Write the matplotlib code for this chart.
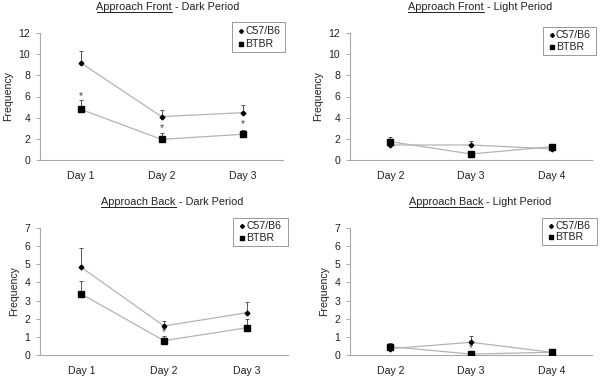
import matplotlib
matplotlib.use("Agg")
import matplotlib.pyplot as plt
from matplotlib.lines import Line2D

plt.rcParams['font.family'] = ['Liberation Sans', 'DejaVu Sans']

# ---- data ----
days_dark = ["Day 1", "Day 2", "Day 3"]
days_light = ["Day 2", "Day 3", "Day 4"]

front_dark_c57 = [9.2, 4.1, 4.47]
front_dark_c57_err = [1.1, 0.6, 0.7]
front_dark_btbr = [4.8, 1.95, 2.43]
front_dark_btbr_err = [0.9, 0.6, 0.45]
front_dark_sig = [6.05, 3.05, 3.37]

front_light_c57 = [1.42, 1.42, 1.05]
front_light_c57_err = [0.8, 0.4, 0.3]
front_light_btbr = [1.73, 0.57, 1.26]
front_light_btbr_err = [0.3, 0.1, 0.25]
front_light_sig = [None, None, None]

back_dark_c57 = [4.83, 1.6, 2.33]
back_dark_c57_err = [1.05, 0.27, 0.6]
back_dark_btbr = [3.36, 0.79, 1.5]
back_dark_btbr_err = [0.72, 0.26, 0.47]
back_dark_sig = [None, 1.25, None]

back_light_c57 = [0.35, 0.7, 0.15]
back_light_c57_err = [0.29, 0.35, 0.05]
back_light_btbr = [0.46, 0.05, 0.15]
back_light_btbr_err = [0.12, 0.05, 0.05]
back_light_sig = [None, 0.37, None]

W, H = 601, 381
fig = plt.figure(figsize=(W / 100, H / 100), dpi=100)

AX_GRAY = '#a8a8a8'
LINE_GRAY = '#b4b4b4'
ERR_COL = '#555555'
TXT = '#222222'


def px_axes(l, r, t, b):
    return fig.add_axes([l / W, 1 - b / H, (r - l) / W, (b - t) / H])


def title(cx, cy, under, rest):
    fs = 7.8
    r = fig.canvas.get_renderer()
    t1 = fig.text(0, 0, under, fontsize=fs, color=TXT, va='baseline')
    t2 = fig.text(0, 0, rest, fontsize=fs, color=TXT, va='baseline')
    w1 = t1.get_window_extent(r).width
    w2 = t2.get_window_extent(r).width
    x0 = cx - (w1 + w2) / 2
    base = H - cy - 3
    t1.set_position((x0 / W, base / H))
    t2.set_position(((x0 + w1) / W, base / H))
    fig.add_artist(Line2D([x0 / W, (x0 + w1) / W], [(base - 1.8) / H] * 2,
                          color=TXT, lw=0.7, transform=fig.transFigure))


def legend(l, r, t, b):
    fig.add_artist(plt.Rectangle((l / W, 1 - b / H), (r - l) / W, (b - t) / H,
                                 transform=fig.transFigure, fill=False,
                                 edgecolor='#999999', lw=0.7))
    y1 = t + (b - t) * 0.3
    y2 = t + (b - t) * 0.72
    fig.add_artist(Line2D([(l + 9) / W], [1 - y1 / H], marker='D', ms=2.0,
                          color='black', transform=fig.transFigure, lw=0))
    fig.add_artist(Line2D([(l + 9) / W], [1 - y2 / H], marker='s', ms=3.4,
                          color='black', transform=fig.transFigure, lw=0))
    fig.text((l + 13) / W, 1 - y1 / H, "C57/B6", fontsize=7.6, va='center', color=TXT)
    fig.text((l + 13) / W, 1 - y2 / H, "BTBR", fontsize=7.6, va='center', color=TXT)


def panel(ax, cats, c57, c57e, btbr, btbre, sig, ymax, ystep):
    x = list(range(len(cats)))
    ax.plot(x, c57, color=LINE_GRAY, lw=0.9, zorder=2)
    ax.plot(x, btbr, color=LINE_GRAY, lw=0.9, zorder=2)
    ax.errorbar(x, c57, yerr=[[0] * len(x), c57e], fmt='none', ecolor=ERR_COL,
                elinewidth=0.7, capsize=1.2, capthick=0.7, zorder=3)
    ax.errorbar(x, btbr, yerr=[[0] * len(x), btbre], fmt='none', ecolor=ERR_COL,
                elinewidth=0.7, capsize=1.2, capthick=0.7, zorder=3)
    ax.plot(x, c57, ls='none', marker='D', ms=2.4, color='black', zorder=4)
    ax.plot(x, btbr, ls='none', marker='s', ms=3.8, color='black', zorder=4)
    for xi, s in zip(x, sig):
        if s is not None:
            ax.text(xi, s, '*', ha='center', va='center', fontsize=7.5, color='#444444')
    ax.set_xlim(-0.5, len(cats) - 0.5)
    ax.set_ylim(0, ymax)
    ax.set_yticks(list(range(0, ymax + 1, ystep)))
    ax.set_xticks(x)
    ax.set_xticklabels(cats)
    for s in ['top', 'right']:
        ax.spines[s].set_visible(False)
    for s in ['left', 'bottom']:
        ax.spines[s].set_color(AX_GRAY)
        ax.spines[s].set_linewidth(0.8)
    ax.tick_params(axis='y', length=3, width=0.7, color=AX_GRAY, labelsize=7.6,
                   labelcolor=TXT, pad=4)
    ax.tick_params(axis='x', length=0, labelsize=7.6, labelcolor=TXT, pad=8)
    ax.set_ylabel('Frequency', fontsize=7.6, color=TXT, labelpad=4)
    ax.patch.set_alpha(0)


ax1 = px_axes(40, 283, 33, 160)
panel(ax1, days_dark, front_dark_c57, front_dark_c57_err, front_dark_btbr,
      front_dark_btbr_err, front_dark_sig, 12, 2)
ax2 = px_axes(350, 592, 33, 160)
panel(ax2, days_light, front_light_c57, front_light_c57_err, front_light_btbr,
      front_light_btbr_err, front_light_sig, 12, 2)
ax3 = px_axes(40, 288, 228, 355)
panel(ax3, days_dark, back_dark_c57, back_dark_c57_err, back_dark_btbr,
      back_dark_btbr_err, back_dark_sig, 7, 1)
ax4 = px_axes(350, 592, 228, 355)
panel(ax4, days_light, back_light_c57, back_light_c57_err, back_light_btbr,
      back_light_btbr_err, back_light_sig, 7, 1)

title(168, 7, "Approach Front", " - Dark Period")
title(480, 7, "Approach Front", " - Light Period")
title(172, 202, "Approach Back", " - Dark Period")
title(480, 202, "Approach Back", " - Light Period")

legend(232, 285, 22, 52)
legend(543, 596, 27, 55)
legend(233, 288, 218, 246)
legend(542, 597, 218, 245)

fig.savefig('out.png', dpi=100)
